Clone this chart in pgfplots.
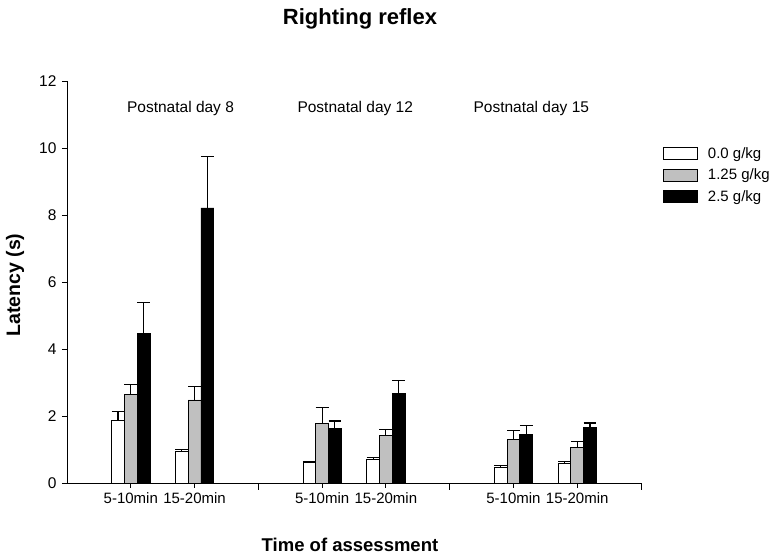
\documentclass[border=0pt]{standalone}
\usepackage{pgfplots}
\pgfplotsset{compat=1.18}
\usepackage{fontspec}
\setmainfont{Liberation Sans}
\begin{document}
\begin{tikzpicture}[x=1pt,y=1pt]
\useasboundingbox (0,0) rectangle (774,554);
\begin{axis}[
  at={(67pt,71pt)}, anchor=south west,
  scale only axis, width=574pt, height=402pt,
  xmin=0, xmax=9, ymin=0, ymax=12,
  axis x line*=bottom, axis y line*=left,
  axis line style={-, line width=0.9pt},
  ytick={0,2,4,6,8,10,12},
  xtick={1,2,4,5,7,8},
  xticklabels={5-10min,15-20min,5-10min,15-20min,5-10min,15-20min},
  extra x ticks={3,6,9}, extra x tick labels={},
  extra x tick style={major tick length=7pt},
  tick align=outside, major tick length=5pt,
  tick style={line width=0.9pt, black},
  /pgf/number format/assume math mode=true,
  ticklabel style={font=\fontsize{15}{18}\selectfont},
  yticklabel style={xshift=-2pt, font=\fontsize{15.5}{18}\selectfont},
  xticklabel style={yshift=-1pt},
  ybar=0pt, bar width=12.8pt,
  legend style={draw=none, fill=none, at={(1.033,0.845)}, anchor=north west,
    font=\fontsize{15}{18}\selectfont, row sep=5pt, nodes={inner sep=2pt}},
  legend cell align=left,
  legend image code/.code={\draw[#1] (0pt,-6pt) rectangle (34pt,6pt); \path (42pt,0pt);},
  error bars/y dir=plus, error bars/y explicit,
  error bars/error bar style={line width=1.1pt, black},
  error bars/error mark options={rotate=90, mark size=6.4pt, line width=1.1pt, black},
]
\addplot[draw=black, line width=0.8pt, fill=white] coordinates {
 (1,1.87) +- (0,0.27)
 (2,0.93) +- (0,0.06)
 (4,0.61) +- (0,0.03)
 (5,0.71) +- (0,0.06)
 (7,0.46) +- (0,0.05)
 (8,0.58) +- (0,0.06)
};
\addplot[draw=black, line width=0.8pt, fill={rgb,255:red,192;green,192;blue,192}] coordinates {
 (1,2.63) +- (0,0.31)
 (2,2.48) +- (0,0.40)
 (4,1.78) +- (0,0.48)
 (5,1.43) +- (0,0.18)
 (7,1.31) +- (0,0.27)
 (8,1.07) +- (0,0.17)
};
\addplot[draw=black, line width=0.8pt, fill=black] coordinates {
 (1,4.47) +- (0,0.91)
 (2,8.21) +- (0,1.54)
 (4,1.64) +- (0,0.21)
 (5,2.66) +- (0,0.39)
 (7,1.44) +- (0,0.27)
 (8,1.65) +- (0,0.14)
};
\legend{0.0 g/kg, 1.25 g/kg, 2.5 g/kg}
\node[font=\fontsize{15.5}{18}\selectfont] at (axis cs:1.78,11.19) {Postnatal day 8};
\node[font=\fontsize{15.5}{18}\selectfont] at (axis cs:4.52,11.19) {Postnatal day 12};
\node[font=\fontsize{15.5}{18}\selectfont] at (axis cs:7.28,11.19) {Postnatal day 15};
\end{axis}
\node[font=\fontsize{22}{26}\selectfont\bfseries] at (360,535) {Righting reflex};
\node[font=\fontsize{18.5}{22}\selectfont\bfseries] at (350,9) {Time of assessment};
\node[font=\fontsize{19.5}{22}\selectfont\bfseries, rotate=90] at (15,269) {Latency (s)};
\end{tikzpicture}
\end{document}
